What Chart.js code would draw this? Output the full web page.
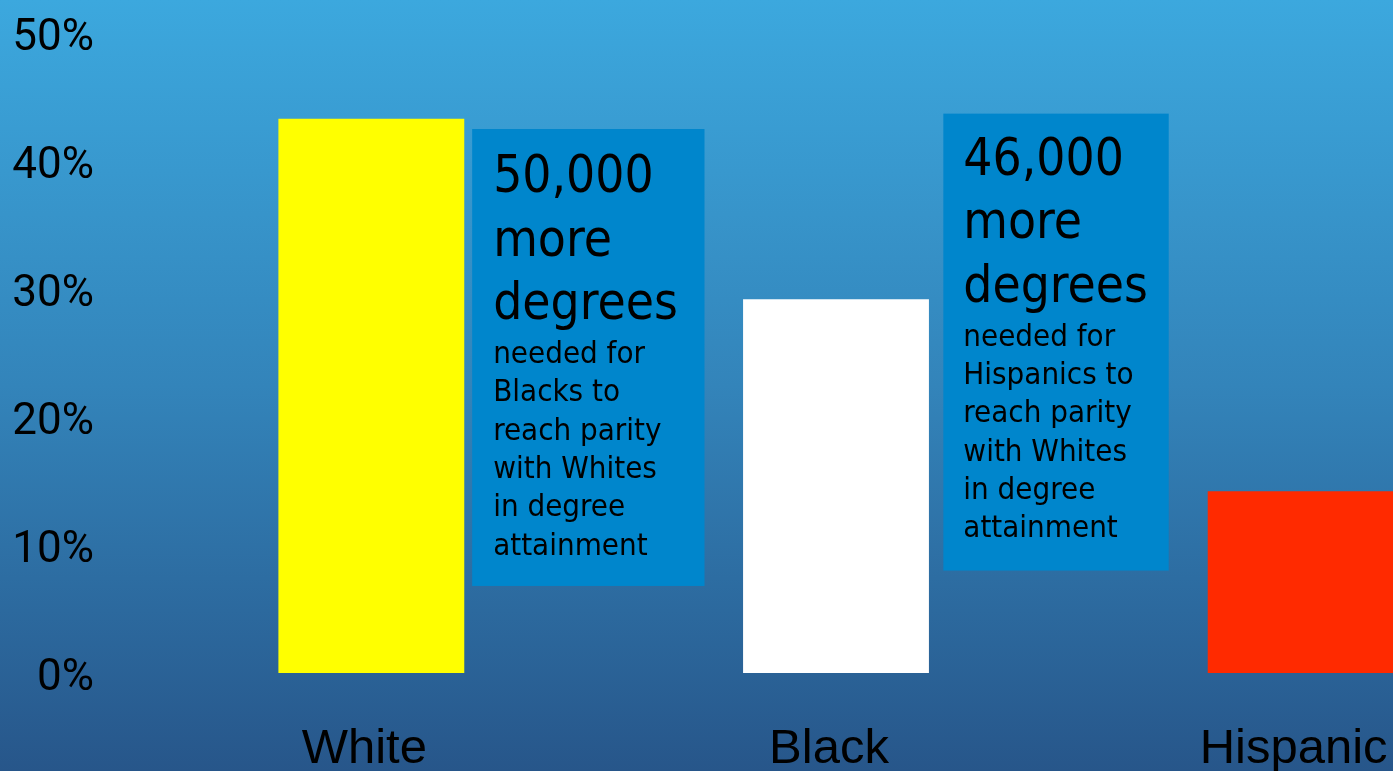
<!DOCTYPE html>
<html>
<head>
<meta charset="utf-8">
<script src="https://cdn.jsdelivr.net/npm/chart.js@4.4.1/dist/chart.umd.min.js"></script>
<style>
  html, body { margin: 0; padding: 0; overflow: hidden; width: 1393px; height: 771px; background: #2f7db5; }
  #wrap { position: absolute; left: 0; top: 0; width: 1533px; height: 771px; }
</style>
</head>
<body>
<div id="wrap"><canvas id="chart"></canvas></div>
<script>
// Degree attainment by group (percent)
const categories = ['White', 'Black', 'Hispanic'];
const attainment = [43.3, 29.2, 14.2];
const barColors = ['#ffff00', '#ffffff', '#ff2a00'];
const yTicks = [0, 10, 20, 30, 40, 50];

// callout texts
const noteHeads = [
  ['50,000', 'more', 'degrees'],
  ['46,000', 'more', 'degrees']
];
const noteBodies = [
  ['needed for', 'Blacks to', 'reach parity', 'with Whites', 'in degree', 'attainment'],
  ['needed for', 'Hispanics to', 'reach parity', 'with Whites', 'in degree', 'attainment']
];

const boxFont = "'DejaVu Sans Condensed', 'DejaVu Sans', sans-serif";
const tickFont = "Roboto, 'Liberation Sans', sans-serif";
const labelFont = "'Liberation Sans', sans-serif";

// slide background gradient
const backdrop = {
  id: 'backdrop',
  beforeDraw(chart) {
    const ctx = chart.ctx;
    const g = ctx.createLinearGradient(0, 0, 0, chart.height);
    g.addColorStop(0, '#3ca8de');
    g.addColorStop(0.5, '#3384ba');
    g.addColorStop(1, '#27568a');
    ctx.save();
    ctx.fillStyle = g;
    ctx.fillRect(0, 0, chart.width, chart.height);
    ctx.restore();
  }
};

// blue callout boxes, placed in category / value units
const callouts = {
  id: 'callouts',
  afterDatasetsDraw(chart) {
    const { ctx, scales: { x, y } } = chart;
    const boxes = [
      { from: 0.217, to: 0.717, top: 42.5, bottom: 6.8, pad: 21, first: 63 },
      { from: 1.231, to: 1.716, top: 43.7, bottom: 8.0, pad: 20, first: 61 }
    ];
    ctx.save();
    boxes.forEach((b, i) => {
      const left = x.getPixelForValue(b.from);
      const right = x.getPixelForValue(b.to);
      const top = y.getPixelForValue(b.top);
      const bottom = y.getPixelForValue(b.bottom);
      ctx.fillStyle = '#0086cc';
      ctx.fillRect(left, top, right - left, bottom - top);

      ctx.fillStyle = '#000000';
      ctx.textAlign = 'left';
      ctx.textBaseline = 'alphabetic';
      let base = top + b.first;
      ctx.font = '51px ' + boxFont;
      noteHeads[i].forEach((line, k) => {
        ctx.fillText(line, left + b.pad, base);
        if (k < noteHeads[i].length - 1) base += 63.5;
      });
      base += 44;
      ctx.font = '31px ' + boxFont;
      noteBodies[i].forEach(line => {
        ctx.fillText(line, left + b.pad, base);
        base += 38.3;
      });
    });
    ctx.restore();
  }
};

new Chart(document.getElementById('chart'), {
  type: 'bar',
  data: {
    labels: categories,
    datasets: [{
      data: attainment,
      backgroundColor: barColors,
      borderWidth: 0,
      categoryPercentage: 1,
      barPercentage: 0.4
    }]
  },
  options: {
    responsive: true,
    maintainAspectRatio: false,
    animation: false,
    events: [],
    layout: { padding: { top: 33, right: 0, bottom: 0, left: 0 } },
    plugins: {
      legend: { display: false },
      tooltip: { enabled: false }
    },
    scales: {
      x: {
        grid: { display: false, drawTicks: false },
        border: { display: false },
        ticks: {
          color: '#000000',
          font: { family: labelFont, size: 49 },
          padding: 47,
          labelOffset: -7,
          maxRotation: 0
        },
        afterFit: s => { s.height = 98; s.paddingLeft = 0; s.paddingRight = 0; }
      },
      y: {
        min: 0,
        max: 50,
        grid: { display: false, drawTicks: false },
        border: { display: false },
        afterBuildTicks: s => { s.ticks = yTicks.map(v => ({ value: v })); },
        ticks: {
          color: '#000000',
          font: { family: tickFont, size: 44 },
          padding: 45,
          labelOffset: 6,
          callback: v => v + '%'
        },
        afterFit: s => { s.width = 139; s.paddingTop = 0; s.paddingBottom = 0; }
      }
    }
  },
  plugins: [backdrop, callouts]
});
</script>
</body>
</html>
